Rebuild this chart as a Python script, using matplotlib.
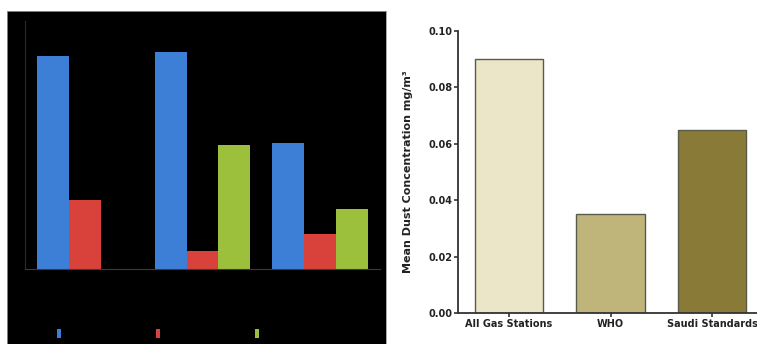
import numpy as np
import matplotlib.pyplot as plt

# left panel (labels are black on black in the original)
groups = ["Group 1", "Group 2", "Group 3"]
series_names = ["Series 1", "Series 2", "Series 3"]
blue_vals = [86, 87.5, 51]
red_vals = [28, 7.3, 14]
green_vals = [0, 50, 24]

# right panel
cats = ["All Gas Stations", "WHO", "Saudi Standards"]
dust = [0.090, 0.035, 0.065]
dust_colors = ["#ece6c8", "#bfb57b", "#8a7a38"]

W, H = 757, 344
fig = plt.figure(figsize=(W / 100, H / 100), dpi=100)
fig.patch.set_facecolor("white")

# black backdrop of the left chart
bg = fig.add_axes([7 / W, 0, (386 - 7) / W, (344 - 11) / H])
bg.set_facecolor("black")
bg.set_xticks([])
bg.set_yticks([])
for s in bg.spines.values():
    s.set_color("#999999")
    s.set_linewidth(0.6)

ax1 = fig.add_axes([25 / W, (H - 269) / H, (380 - 25) / W, (269 - 21) / H])
ax1.patch.set_alpha(0)
x = np.arange(len(groups))
w = 0.272
ax1.bar(x - w, blue_vals, w, color="#3d7fd6", label=series_names[0])
ax1.bar(x, red_vals, w, color="#d8423b", label=series_names[1])
ax1.bar(x + w, green_vals, w, color="#9cc03c", label=series_names[2])
ax1.set_xlim(-0.51, 2.51)
ax1.set_ylim(0, 100)
ax1.set_xticks([])
ax1.set_yticks([])
for s in ["top", "right"]:
    ax1.spines[s].set_visible(False)
ax1.spines["left"].set_color("#2a2a2a")
ax1.spines["bottom"].set_color("#3a3a3a")
leg = ax1.legend(loc="center", bbox_to_anchor=(0.435, -0.26), ncol=3, frameon=False,
                 handlelength=0.45, handleheight=1.0, columnspacing=5.3,
                 handletextpad=0.4, fontsize=7)
for t in leg.get_texts():
    t.set_color("black")

# right chart
ax2 = fig.add_axes([458 / W, (H - 313) / H, (757 - 458) / W, (313 - 31) / H])
xx = np.arange(len(cats))
ax2.bar(xx, dust, 0.67, color=dust_colors, edgecolor="#5a5a4a", linewidth=1.0)
ax2.set_xlim(-0.5, 2.44)
ax2.set_ylim(0, 0.10)
ax2.set_yticks(np.arange(0, 0.101, 0.02))
ax2.set_yticklabels(["%.2f" % v for v in np.arange(0, 0.101, 0.02)])
ax2.set_xticks(xx)
ax2.set_xticklabels(cats)
for s in ["top", "right"]:
    ax2.spines[s].set_visible(False)
for s in ["left", "bottom"]:
    ax2.spines[s].set_linewidth(1.3)
    ax2.spines[s].set_color("#333333")
ax2.tick_params(axis="both", length=3, width=1.2, color="#333333", labelsize=7, pad=1)
for lab in ax2.get_xticklabels() + ax2.get_yticklabels():
    lab.set_fontweight("bold")
    lab.set_color("#222222")
ax2.set_ylabel("Mean Dust Concentration mg/m³", fontsize=8, fontweight="bold",
               color="#222222", labelpad=11)

fig.savefig("out.png", dpi=100)
